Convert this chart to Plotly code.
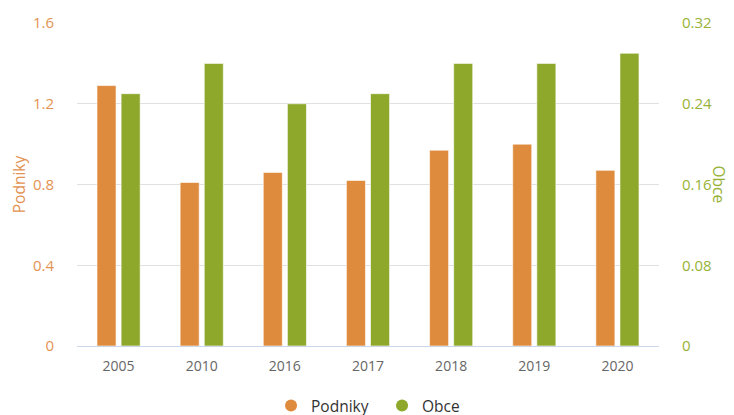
import plotly.graph_objects as go

years = ["2005", "2010", "2016", "2017", "2018", "2019", "2020"]
podniky = [1.29, 0.81, 0.86, 0.82, 0.97, 1.0, 0.87]
obce = [0.25, 0.28, 0.24, 0.25, 0.28, 0.28, 0.29]

ORANGE = "#DF8B3D"
GREEN = "#8DA82A"
ORANGE_TXT = "#E39352"
GREEN_TXT = "#97B236"
FONT = "Open Sans"

fig = go.Figure()
fig.add_trace(go.Bar(x=years, y=podniky, name="Podniky", marker=dict(color=ORANGE, line=dict(color="rgba(255,255,255,0.6)", width=1)),
                     offsetgroup="1", yaxis="y", showlegend=False))
fig.add_trace(go.Bar(x=years, y=obce, name="Obce", marker=dict(color=GREEN, line=dict(color="rgba(255,255,255,0.6)", width=1)),
                     offsetgroup="2", yaxis="y2", showlegend=False))
# legend proxies (circle symbols)
fig.add_trace(go.Scatter(x=[None], y=[None], mode="markers", name="Podniky",
                         marker=dict(symbol="circle", size=15, color=ORANGE)))
fig.add_trace(go.Scatter(x=[None], y=[None], mode="markers", name="Obce",
                         marker=dict(symbol="circle", size=15, color=GREEN)))

fig.update_layout(
    width=726, height=407,
    margin=dict(l=69, r=75, t=15, b=69, autoexpand=False),
    paper_bgcolor="white", plot_bgcolor="white",
    font=dict(family=FONT, size=13, color="#333333"),
    barmode="group", bargap=0.42, bargroupgap=0.21,
    xaxis=dict(type="category", showgrid=False, showline=True, linecolor="#CCD6EB", linewidth=1,
               ticks="outside", ticklen=7, tickcolor="rgba(0,0,0,0)", automargin=False,
               tickfont=dict(size=14, color="#666666", family=FONT)),
    yaxis=dict(range=[0, 1.6], dtick=0.4, tick0=0, showgrid=True, gridcolor="#E0E0E0", gridwidth=1,
               zeroline=False, showline=False, automargin=False,
               ticks="outside", ticklen=19, tickcolor="rgba(0,0,0,0)",
               tickfont=dict(size=15, color=ORANGE_TXT, family=FONT),
               title=dict(text="Podniky", font=dict(size=15.5, color=ORANGE_TXT, family=FONT), standoff=14)),
    yaxis2=dict(range=[0, 0.32], dtick=0.08, tick0=0, overlaying="y", side="right", showgrid=False,
                zeroline=False, showline=False, automargin=False,
                ticks="outside", ticklen=19, tickcolor="rgba(0,0,0,0)",
                tickfont=dict(size=15, color=GREEN_TXT, family=FONT)),
    legend=dict(orientation="h", x=0.3334, xanchor="left", y=-0.133, yanchor="top",
                font=dict(size=15.5, color="#333333", family=FONT), itemsizing="constant",
                entrywidth=66),
    annotations=[dict(text="Obce", xref="paper", yref="paper", x=1.1048, y=0.5, textangle=90,
                      showarrow=False, font=dict(size=15.5, color=GREEN_TXT, family=FONT),
                      xanchor="center", yanchor="middle")],
)

fig.write_html("out.html")
